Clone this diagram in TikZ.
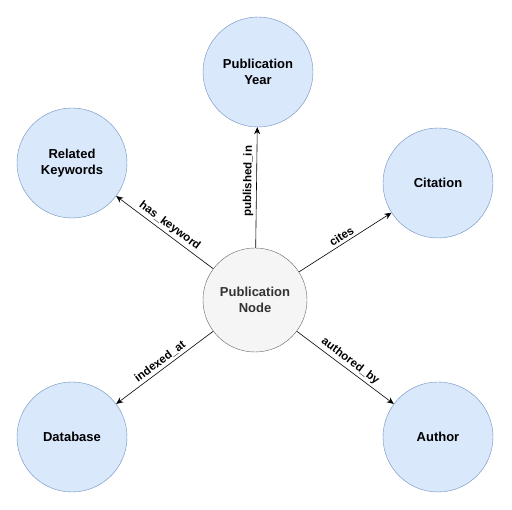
\documentclass[tikz,border=0pt]{standalone}
\usepackage{fontspec}
\setmainfont{Liberation Sans}
\usepackage{xcolor}
\usetikzlibrary{positioning, arrows.meta}

\definecolor{entfill}{HTML}{DAE8FC}
\definecolor{entdraw}{HTML}{6C8EBF}
\definecolor{hubfill}{HTML}{F5F5F5}
\definecolor{hubdraw}{HTML}{666666}

\begin{document}
\begin{tikzpicture}[
  x=1pt, y=-1pt,
  entity/.style={circle, draw=entdraw, fill=entfill, minimum size=110pt, inner sep=0pt, align=center, font=\fontsize{13}{16}\selectfont\bfseries},
  hub/.style={circle, draw=hubdraw, fill=hubfill, minimum size=104pt, inner sep=0pt, align=center, font=\fontsize{13}{16}\selectfont\bfseries, text=black!80},
  arrow/.style={-{Stealth[length=7pt, width=6pt]}, semithick},
  label/.style={font=\fontsize{11.5}{12}\selectfont\bfseries, sloped, above, inner sep=2.5pt},
]
\useasboundingbox (0,0) rectangle (512,510);

% ================= nodes =================
\node[hub] (pub) at (255,300) {Publication\\Node};

\node[entity] (year) at (258,72) {Publication\\Year};
\node[entity] (keywords) at (72,163) {Related\\Keywords};
\node[entity] (citation) at (438,183) {Citation};
\node[entity] (database) at (72,437) {Database};
\node[entity] (author) at (438,437) {Author};

% ================= edges =================
\draw[arrow] (pub) -- (year) node[pos=0.55, label] {published\_in};
\draw[arrow] (pub) -- (keywords) node[pos=0.5, label] {has\_keyword};
\draw[arrow] (pub) -- (citation) node[pos=0.5, label] {cites};
\draw[arrow] (pub) -- (database) node[pos=0.5, label] {indexed\_at};
\draw[arrow] (pub) -- (author) node[pos=0.5, label] {authored\_by};

\end{tikzpicture}
\end{document}
